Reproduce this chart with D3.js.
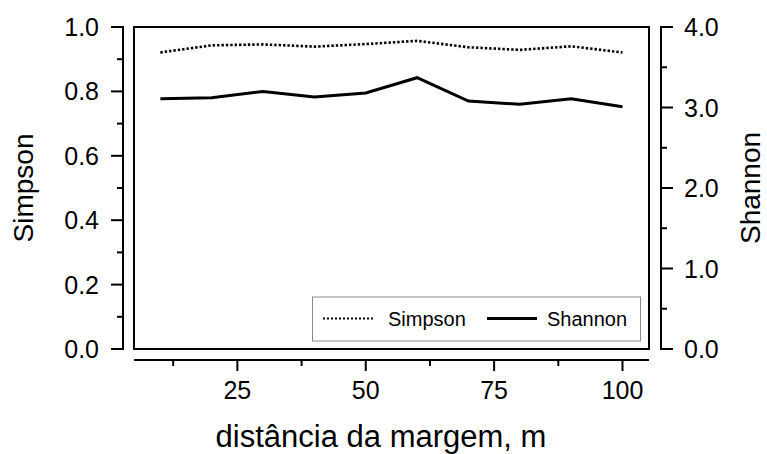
<!DOCTYPE html>
<html>
<head>
<meta charset="utf-8">
<script src="https://cdn.jsdelivr.net/npm/d3@7"></script>
<style>
  html, body { margin: 0; padding: 0; background: #fff; }
  svg { display: block; font-family: "Liberation Sans", Arial, sans-serif; }
</style>
</head>
<body>
<svg id="chart" width="767" height="454"></svg>
<script>
// Data
const distances = [10, 20, 30, 40, 50, 60, 70, 80, 90, 100];
const simpson = [0.921, 0.943, 0.946, 0.939, 0.947, 0.957, 0.937, 0.929, 0.940, 0.921];
const shannon = [3.11, 3.12, 3.20, 3.13, 3.18, 3.37, 3.08, 3.04, 3.11, 3.01];
const xTicks = [25, 50, 75, 100];
const xMinorTicks = [12.5, 37.5, 62.5, 87.5];
const leftTicks = [0, 0.2, 0.4, 0.6, 0.8, 1.0];
const leftMinor = [0.1, 0.3, 0.5, 0.7, 0.9];
const rightTicks = [0, 1, 2, 3, 4];
const rightMinor = [0.5, 1.5, 2.5, 3.5];
const seriesNames = ["Simpson", "Shannon"];

const svg = d3.select("#chart");

const box = { left: 134, right: 649, top: 27, bottom: 349 };
const x = d3.scaleLinear().domain([0, 100]).range([109, 622.5]);
const yL = d3.scaleLinear().domain([0, 1]).range([box.bottom, box.top]);
const yR = d3.scaleLinear().domain([0, 4]).range([box.bottom, box.top]);

// Plot frame
svg.append("rect")
  .attr("x", box.left).attr("y", box.top)
  .attr("width", box.right - box.left).attr("height", box.bottom - box.top)
  .attr("fill", "none").attr("stroke", "#000").attr("stroke-width", 2);

// Left axis
const leftX = 123;
const gL = svg.append("g");
gL.append("line").attr("x1", leftX).attr("x2", leftX)
  .attr("y1", yL(0)).attr("y2", yL(1)).attr("stroke", "#000").attr("stroke-width", 2);
gL.selectAll(".maj").data(leftTicks).join("line")
  .attr("x1", leftX - 12).attr("x2", leftX + 1)
  .attr("y1", d => yL(d)).attr("y2", d => yL(d)).attr("stroke", "#000").attr("stroke-width", 2);
gL.selectAll(".min").data(leftMinor).join("line")
  .attr("x1", leftX - 6).attr("x2", leftX)
  .attr("y1", d => yL(d)).attr("y2", d => yL(d)).attr("stroke", "#000").attr("stroke-width", 2);
gL.selectAll("text").data(leftTicks).join("text")
  .attr("x", 99).attr("y", d => yL(d)).attr("dy", "0.36em")
  .attr("text-anchor", "end").attr("font-size", 25)
  .text(d => d3.format(".1f")(d));

// Right axis
const rightX = 661;
const gR = svg.append("g");
gR.append("line").attr("x1", rightX).attr("x2", rightX)
  .attr("y1", yR(0)).attr("y2", yR(4)).attr("stroke", "#000").attr("stroke-width", 2);
gR.selectAll(".maj").data(rightTicks).join("line")
  .attr("x1", rightX - 1).attr("x2", rightX + 12)
  .attr("y1", d => yR(d)).attr("y2", d => yR(d)).attr("stroke", "#000").attr("stroke-width", 2);
gR.selectAll(".min").data(rightMinor).join("line")
  .attr("x1", rightX).attr("x2", rightX + 6)
  .attr("y1", d => yR(d)).attr("y2", d => yR(d)).attr("stroke", "#000").attr("stroke-width", 2);
gR.selectAll("text").data(rightTicks).join("text")
  .attr("x", 684).attr("y", d => yR(d)).attr("dy", "0.36em")
  .attr("text-anchor", "start").attr("font-size", 25)
  .text(d => d3.format(".1f")(d));

// Bottom axis
const axisY = 360;
const gB = svg.append("g");
gB.append("line").attr("x1", box.left).attr("x2", box.right)
  .attr("y1", axisY).attr("y2", axisY).attr("stroke", "#000").attr("stroke-width", 2);
gB.selectAll(".maj").data(xTicks).join("line")
  .attr("x1", d => x(d)).attr("x2", d => x(d))
  .attr("y1", axisY).attr("y2", axisY + 11).attr("stroke", "#000").attr("stroke-width", 2);
gB.selectAll(".min").data(xMinorTicks).join("line")
  .attr("x1", d => x(d)).attr("x2", d => x(d))
  .attr("y1", axisY).attr("y2", axisY + 6).attr("stroke", "#000").attr("stroke-width", 2);
gB.selectAll("text").data(xTicks).join("text")
  .attr("x", d => x(d)).attr("y", 399)
  .attr("text-anchor", "middle").attr("font-size", 25)
  .text(d => d);

// Axis titles
svg.append("text")
  .attr("transform", "translate(33,188) rotate(-90)")
  .attr("text-anchor", "middle").attr("font-size", 28)
  .text("Simpson");
svg.append("text")
  .attr("transform", "translate(760,188) rotate(-90)")
  .attr("text-anchor", "middle").attr("font-size", 28)
  .text("Shannon");
svg.append("text")
  .attr("x", 381).attr("y", 447)
  .attr("text-anchor", "middle").attr("font-size", 31)
  .text("distância da margem, m");

// Lines
const lineL = d3.line().x((d, i) => x(distances[i])).y(d => yL(d));
const lineR = d3.line().x((d, i) => x(distances[i])).y(d => yR(d));
svg.append("path").attr("d", lineL(simpson))
  .attr("fill", "none").attr("stroke", "#000").attr("stroke-width", 2.6)
  .attr("stroke-dasharray", "2.4,2");
svg.append("path").attr("d", lineR(shannon))
  .attr("fill", "none").attr("stroke", "#000").attr("stroke-width", 3)
  .attr("stroke-linejoin", "miter");

// Legend
const lg = svg.append("g");
lg.append("rect").attr("x", 312.5).attr("y", 297).attr("width", 328).attr("height", 44)
  .attr("fill", "#fff").attr("stroke", "#8a8a8a").attr("stroke-width", 1);
const legendItems = [
  { name: seriesNames[0], x1: 323, x2: 373, tx: 388, dash: "2,2", w: 2 },
  { name: seriesNames[1], x1: 487, x2: 537, tx: 547, dash: null, w: 3 }
];
legendItems.forEach(it => {
  lg.append("line").attr("x1", it.x1).attr("x2", it.x2).attr("y1", 318.5).attr("y2", 318.5)
    .attr("stroke", "#000").attr("stroke-width", it.w)
    .attr("stroke-dasharray", it.dash);
  lg.append("text").attr("x", it.tx).attr("y", 318.5).attr("dy", "0.36em")
    .attr("font-size", 20).text(it.name);
});
</script>
</body>
</html>
